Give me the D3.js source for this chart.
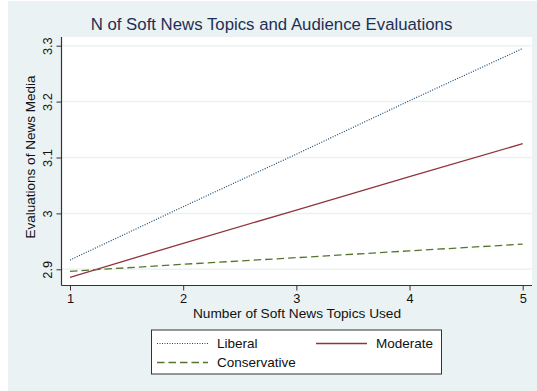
<!DOCTYPE html>
<html><head><meta charset="utf-8">
<script src="https://cdn.jsdelivr.net/npm/d3@7"></script>
<style>body{margin:0;background:#fff}svg{display:block;font-family:"Liberation Sans",Arial,sans-serif}</style>
</head><body><div id="chart"></div>
<script>
const xValues = [1, 2, 3, 4, 5];
const liberal = [2.9166, 3.012, 3.106, 3.2016, 3.295];
const moderate = [2.8857, 2.9465, 3.006, 3.0657, 3.1247];
const conservative = [2.8964, 2.909, 2.9208, 2.933, 2.945];
const yTicks = [2.9, 3, 3.1, 3.2, 3.3];
const xTicks = [1, 2, 3, 4, 5];
const seriesNames = ["Liberal", "Moderate", "Conservative"];

const W = 537, H = 391;
const svg = d3.select("#chart").append("svg").attr("width", W).attr("height", H);
svg.append("rect").attr("x", 8).attr("y", 1).attr("width", W - 8).attr("height", H - 1).attr("fill", "#eaf2f3");

const plot = {left: 61.5, right: 532, top: 37, bottom: 285.5};
svg.append("rect").attr("x", plot.left).attr("y", plot.top)
  .attr("width", plot.right - plot.left).attr("height", plot.bottom - plot.top).attr("fill", "#fff");

const x = d3.scaleLinear().domain([1, 5]).range([70, 522.7]);
const y = d3.scaleLinear().domain([2.9, 3.3]).range([269.3, 45.7]);

// gridlines
svg.append("g").selectAll("line").data(yTicks).join("line")
  .attr("x1", plot.left).attr("x2", plot.right)
  .attr("y1", d => y(d)).attr("y2", d => y(d))
  .attr("stroke", "#eaf2f3").attr("stroke-width", 1.5);

// axes
const yAxis = d3.axisLeft(y).tickValues(yTicks).tickSize(5).tickFormat(d => d3.format("")(d));
const gy = svg.append("g").attr("transform", `translate(${plot.left},0)`).call(yAxis);
gy.select(".domain").attr("d", `M0,${plot.top}V${plot.bottom}`).attr("stroke", "#333").attr("stroke-width", 1.2);
gy.selectAll(".tick line").attr("stroke", "#333");
gy.selectAll(".tick text").attr("transform", "rotate(-90)").attr("x", 0).attr("y", -10).attr("dy", 0)
  .attr("text-anchor", "middle").attr("font-size", 12.8).attr("fill", "#111")
  .attr("font-family", "Liberation Sans, Arial, sans-serif");

const xAxis = d3.axisBottom(x).tickValues(xTicks).tickSize(5).tickFormat(d3.format("d"));
const gx = svg.append("g").attr("transform", `translate(0,${plot.bottom})`).call(xAxis);
gx.select(".domain").attr("d", `M${plot.left},0H${plot.right}`).attr("stroke", "#333").attr("stroke-width", 1.2);
gx.selectAll(".tick line").attr("stroke", "#333");
gx.selectAll(".tick text").attr("y", 8).attr("dy", "0.71em").attr("font-size", 12.8).attr("fill", "#111")
  .attr("font-family", "Liberation Sans, Arial, sans-serif");

// lines
const styles = [
  {data: liberal, color: "#1a476f", dash: "1,1.5", width: 1.2},
  {data: moderate, color: "#90353b", dash: null, width: 1.3},
  {data: conservative, color: "#55752f", dash: "7.5,4", width: 1.3}
];
const line = d3.line().x((d, i) => x(xValues[i])).y(d => y(d));
styles.forEach(s => {
  svg.append("path").attr("d", line(s.data)).attr("fill", "none")
    .attr("stroke", s.color).attr("stroke-width", s.width)
    .attr("stroke-dasharray", s.dash);
});

// titles
svg.append("text").attr("x", 271.5).attr("y", 30).attr("text-anchor", "middle")
  .attr("font-size", 16.8).attr("fill", "#1e2f55").text("N of Soft News Topics and Audience Evaluations");
svg.append("text").attr("transform", "translate(35,157) rotate(-90)").attr("text-anchor", "middle")
  .attr("font-size", 13.5).attr("fill", "#111").text("Evaluations of News Media");
svg.append("text").attr("x", 297).attr("y", 318).attr("text-anchor", "middle")
  .attr("font-size", 13.7).attr("fill", "#111").text("Number of Soft News Topics Used");

// legend
const lg = svg.append("g");
lg.append("rect").attr("x", 151.5).attr("y", 330).attr("width", 290).attr("height", 44)
  .attr("fill", "#fff").attr("stroke", "#333").attr("stroke-width", 1);
const items = [
  {name: seriesNames[0], s: styles[0], lx: 157, ty: 343.5},
  {name: seriesNames[1], s: styles[1], lx: 316, ty: 343.5},
  {name: seriesNames[2], s: styles[2], lx: 157, ty: 362.5}
];
items.forEach(it => {
  lg.append("line").attr("x1", it.lx).attr("x2", it.lx + 51).attr("y1", it.ty).attr("y2", it.ty)
    .attr("stroke", it.s.color).attr("stroke-width", it.s.width).attr("stroke-dasharray", it.s.dash);
  lg.append("text").attr("x", it.lx + 60).attr("y", it.ty + 4.5).attr("font-size", 13.5)
    .attr("fill", "#111").text(it.name);
});
</script></body></html>
